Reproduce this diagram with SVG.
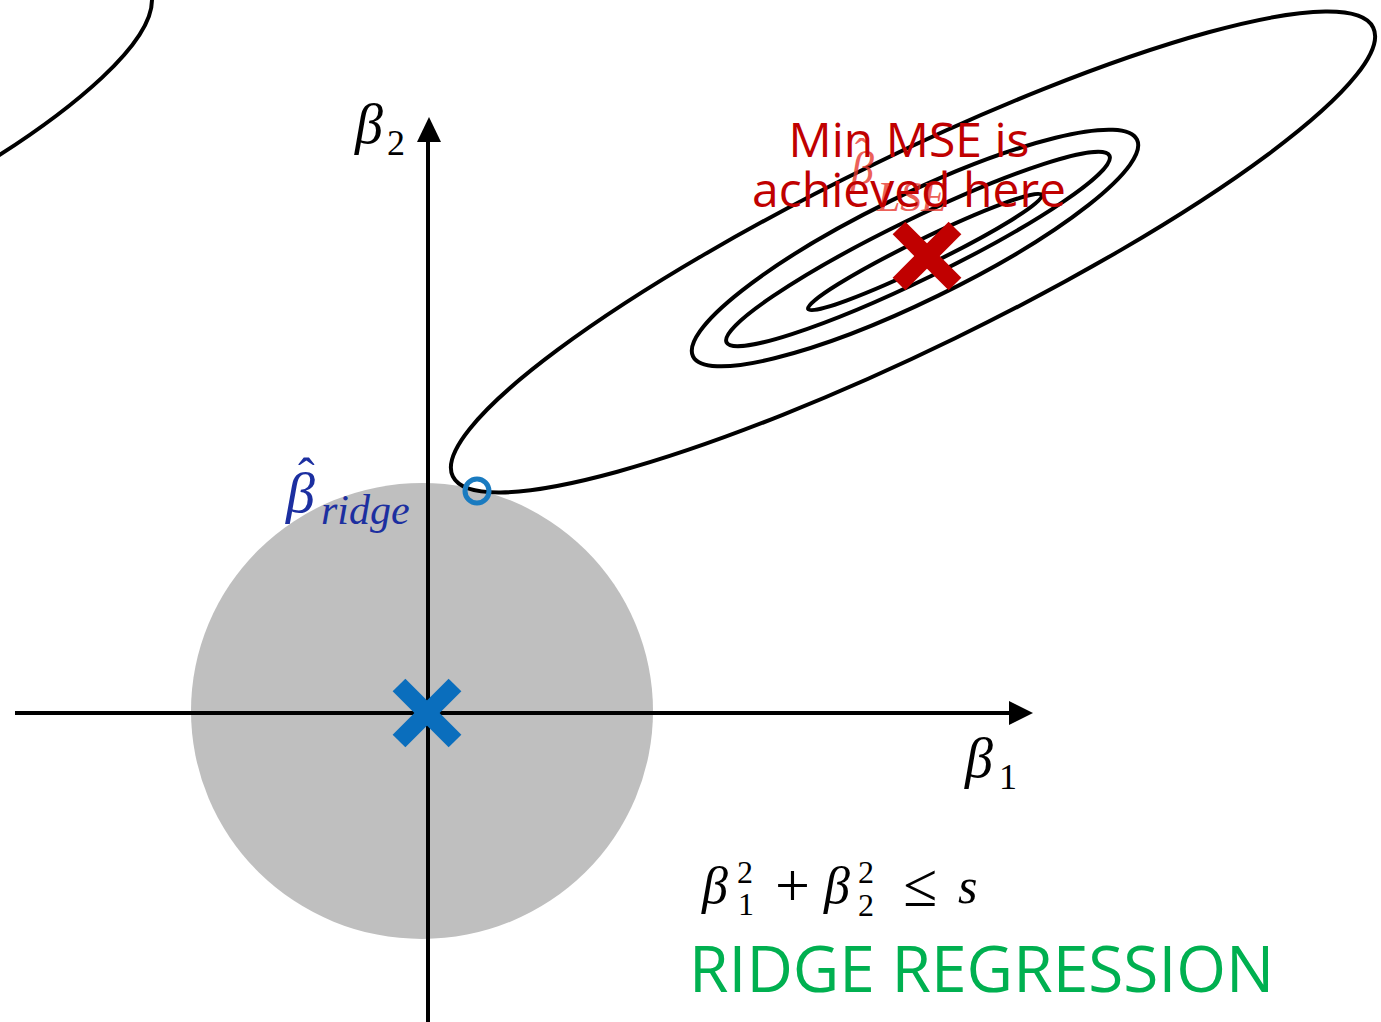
<svg xmlns="http://www.w3.org/2000/svg" width="1381" height="1022" viewBox="0 0 1381 1022">
<defs>
<style>
.contour{fill:none;stroke:#000;stroke-width:4}
.axis{stroke:#000;stroke-width:4;fill:none}
.head{fill:#000}
.math{font-family:"Liberation Serif","Times New Roman",serif;font-style:italic}
.up{font-family:"Liberation Serif","Times New Roman",serif;font-style:normal}
.note{font-family:"Open Sans","Liberation Sans",sans-serif}
</style>
</defs>
<rect width="1381" height="1022" fill="#fff"/>
<g id="constraint-region">
<ellipse cx="422" cy="711" rx="231" ry="228" fill="#bfbfbf"/>
</g>
<g id="connectors">
<line class="axis" x1="428" y1="1022" x2="428" y2="138"/>
<polygon class="head" points="429,117 417,142 441,142"/>
<line class="axis" x1="15" y1="713" x2="1012" y2="713"/>
<polygon class="head" points="1033,713 1009,701 1009,725"/>
</g>
<g id="contours">
<path class="contour" d="M-2,156 C70,110 152,45 152,0"/>
<ellipse class="contour" cx="913" cy="252" rx="512" ry="96" transform="rotate(-26 913 252)"/>
<ellipse class="contour" cx="915" cy="248" rx="247" ry="53" transform="rotate(-26 915 248)"/>
<ellipse class="contour" cx="918" cy="249" rx="213" ry="30" transform="rotate(-26 918 249)"/>
<ellipse class="contour" cx="925" cy="252" rx="130" ry="13" transform="rotate(-26 925 252)"/>
</g>
<g id="label-beta2">
<text class="math" x="355" y="143" font-size="56">β</text>
<text class="up" x="387" y="155" font-size="36">2</text>
</g>
<g id="label-beta1">
<text class="math" x="965" y="777" font-size="56">β</text>
<text class="up" x="999" y="789" font-size="36">1</text>
</g>
<g id="label-beta-lse" fill="#e83a30" opacity="0.8">
<text class="math" x="851" y="184" font-size="46">β</text>
<text class="up" x="855" y="166" font-size="40">ˆ</text>
<text class="math" x="877" y="211" font-size="42">LSE</text>
</g>
<g id="label-min-mse" fill="#c00000">
<text class="note" x="909" y="157" font-size="48" text-anchor="middle">Min MSE is</text>
<text class="note" x="909" y="207" font-size="48" text-anchor="middle">achieved here</text>
</g>
<g id="marker-lse">
<line x1="899" y1="228" x2="955" y2="284" stroke="#c00000" stroke-width="18"/>
<line x1="955" y1="228" x2="899" y2="284" stroke="#c00000" stroke-width="18"/>
</g>
<g id="marker-origin">
<line x1="399" y1="685" x2="455" y2="741" stroke="#0a6ebd" stroke-width="18"/>
<line x1="455" y1="685" x2="399" y2="741" stroke="#0a6ebd" stroke-width="18"/>
</g>
<g id="marker-ridge">
<circle cx="477" cy="491" r="12" fill="none" stroke="#1a7bc0" stroke-width="5"/>
</g>
<g id="label-beta-ridge" fill="#1c2fa0">
<text class="math" x="286" y="512" font-size="58">β</text>
<text class="up" x="298" y="493" font-size="50">ˆ</text>
<text class="math" x="321" y="524" font-size="42">ridge</text>
</g>
<g id="label-constraint">
<text class="math" x="702" y="903" font-size="52">β</text>
<text class="up" x="737" y="883" font-size="32">2</text>
<text class="up" x="738" y="915" font-size="32">1</text>
<text class="up" x="775" y="906" font-size="62">+</text>
<text class="math" x="824" y="903" font-size="52">β</text>
<text class="up" x="858" y="883" font-size="32">2</text>
<text class="up" x="858" y="916" font-size="32">2</text>
<text class="up" x="903" y="906" font-size="62">≤</text>
<text class="math" x="958" y="903" font-size="50">s</text>
</g>
<g id="title">
<text class="note" x="689" y="992" font-size="64" fill="#00b050">RIDGE REGRESSION</text>
</g>
</svg>
